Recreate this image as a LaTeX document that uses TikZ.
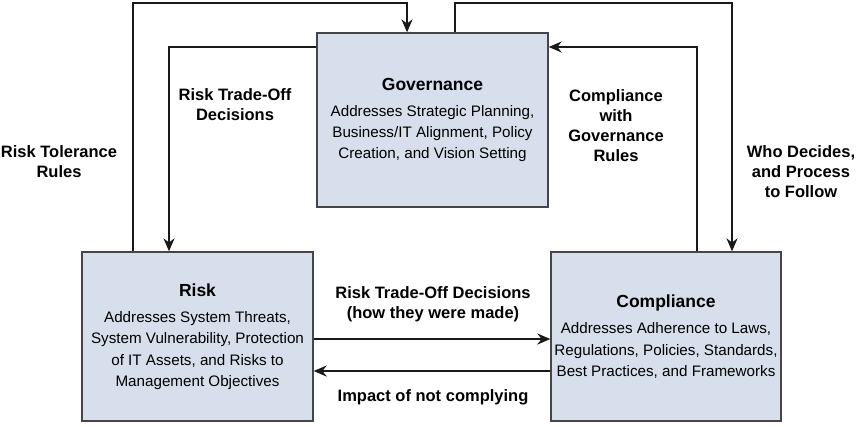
\documentclass[tikz,border=0pt]{standalone}
\usepackage{fontspec}
\setmainfont{Liberation Sans}
\usetikzlibrary{arrows.meta}
\definecolor{boxfill}{RGB}{214,223,235}
\definecolor{boxline}{RGB}{70,70,70}
\tikzset{
  box/.style={draw=boxline, line width=1.3pt, fill=boxfill, inner sep=0pt, align=center,
    font=\fontsize{15.2}{21.3}\selectfont},
  conn/.style={draw=black!90, line width=2.6pt, -{Stealth[length=13pt,width=11pt]}},
  lbl/.style={align=center, font=\fontsize{16.5}{20}\selectfont\bfseries, inner sep=0pt}
}
\begin{document}
\begin{tikzpicture}[x=1pt,y=-1pt]
\useasboundingbox (0,0) rectangle (856,426);
\node[box, minimum width=231pt, minimum height=174pt] (gov) at (432.5,120)
  {{\fontsize{17.5}{21}\selectfont\bfseries Governance}\\[5pt]
   Addresses Strategic Planning,\\Business/IT Alignment, Policy\\Creation, and Vision Setting};
\node[box, minimum width=231pt, minimum height=169pt] (risk) at (197.5,336.5)
  {{\fontsize{17.5}{21}\selectfont\bfseries Risk}\\[5pt]
   Addresses System Threats,\\System Vulnerability, Protection\\of IT Assets, and Risks to\\Management Objectives};
\node[box, minimum width=230pt, minimum height=169pt] (comp) at (666,336.5)
  {{\fontsize{17.5}{21}\selectfont\bfseries Compliance}\\[5pt]
   Addresses Adherence to Laws,\\Regulations, Policies, Standards,\\Best Practices, and Frameworks};

% Risk -> Governance (Risk Tolerance Rules)
\draw[conn] (risk.north -| 133,0) -- (133,3) -- (407,3) -- (gov.north -| 407,0);
% Governance -> Risk (Risk Trade-Off Decisions)
\draw[conn] (gov.west |- 0,47) -- (169,47) -- (risk.north -| 169,0);
% Governance -> Compliance (Who Decides)
\draw[conn] (gov.north -| 455,0) -- (455,3) -- (732,3) -- (comp.north -| 732,0);
% Compliance -> Governance
\draw[conn] (comp.north -| 697,0) -- (697,47) -- (gov.east |- 0,47);
% horizontal
\draw[conn] (risk.east |- 0,339) -- (comp.west |- 0,339);
\draw[conn] (comp.west |- 0,371) -- (risk.east |- 0,371);

\node[lbl] (l1) at (59,162) {Risk Tolerance\\Rules};
\node[lbl] (l2) at (235,105) {Risk Trade-Off\\Decisions};
\node[lbl] (l3) at (616,126) {Compliance\\with\\Governance\\Rules};
\node[lbl] (l4) at (801,172) {Who Decides,\\and Process\\to Follow};
\node[lbl] (l5) at (433,304) {Risk Trade-Off Decisions\\(how they were made)};
\node[lbl] (l6) at (433,397) {Impact of not complying};
\end{tikzpicture}
\end{document}
